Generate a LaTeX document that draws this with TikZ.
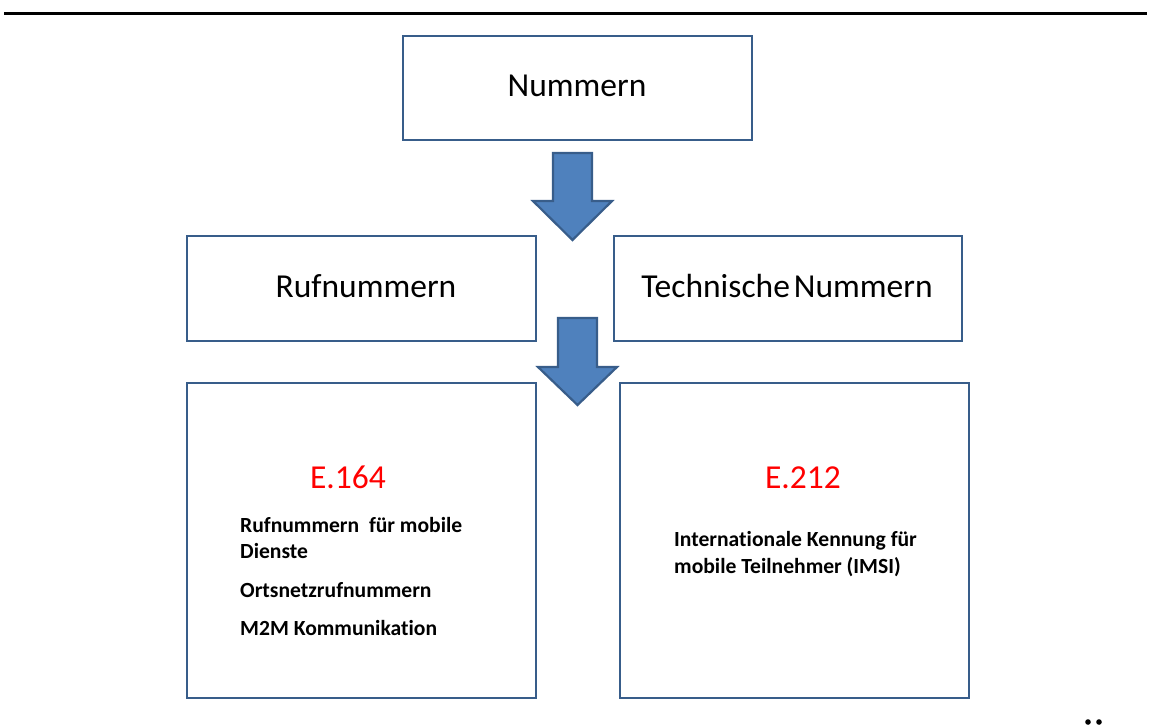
\documentclass[tikz,border=0pt]{standalone}
\usepackage{fontspec}
\setmainfont[Ligatures=NoCommon]{Carlito}
\definecolor{boxline}{HTML}{385D8A}
\definecolor{arrowfill}{HTML}{4F81BD}
\begin{document}
\begin{tikzpicture}[x=1pt,y=-1pt]
\tikzset{
  frame/.style={draw=boxline,line width=2.9pt,fill=white},
  blockarrow/.style={draw=boxline,line width=2.2pt,fill=arrowfill,line join=miter},
  bigtext/.style={inner sep=0pt,anchor=base,font=\fontsize{33.5}{38}\selectfont},
  redtext/.style={bigtext,text=red},
  smalltext/.style={inner sep=0pt,anchor=base west,font=\bfseries\fontsize{21.6}{26}\selectfont},
}
\useasboundingbox (0,0) rectangle (1149,724);
\fill[white] (0,0) rectangle (1149,724);
\draw[line width=2.4pt] (4,13.5) -- (1147,13.5);
% boxes
\draw[frame] (403,36) rectangle (752,140);
\draw[frame] (187,236) rectangle (536,341);
\draw[frame] (614,236) rectangle (962,341);
\draw[frame] (187,383) rectangle (536,698);
\draw[frame] (620,383) rectangle (969,698);
% arrows
\draw[blockarrow] (553,153) -- (592,153) -- (592,201) -- (612,201) -- (572.5,240) -- (533,201) -- (553,201) -- cycle;
\draw[blockarrow] (558,318) -- (597,318) -- (597,367) -- (617,367) -- (577.5,405) -- (538,367) -- (558,367) -- cycle;
% texts
\node[bigtext] (t1) at (577,96) {Nummern};
\node[bigtext] (t2) at (366,297) {Rufnummern};
\node[bigtext] (t3) at (787,297) {Technische\hspace{0.12em}Nummern};
\node[redtext] (t4) at (348,488) {E.164};
\node[redtext] (t5) at (803,488) {E.212};
\node[smalltext] (l1) at (240,532) {Rufnummern\ \ für mobile};
\node[smalltext] (l2) at (240,558) {Dienste};
\node[smalltext] (l3) at (240,597) {Ortsnetzrufnummern};
\node[smalltext] (l4) at (240,635) {M2M Kommunikation};
\node[smalltext] (r1) at (674,546) {Internationale Kennung für};
\node[smalltext] (r2) at (674,573) {mobile Teilnehmer (IMSI)};
% clipped glyph dots at bottom right
\fill (1088,722) circle (2.8);
\fill (1099,722) circle (2.8);
\end{tikzpicture}
\end{document}
